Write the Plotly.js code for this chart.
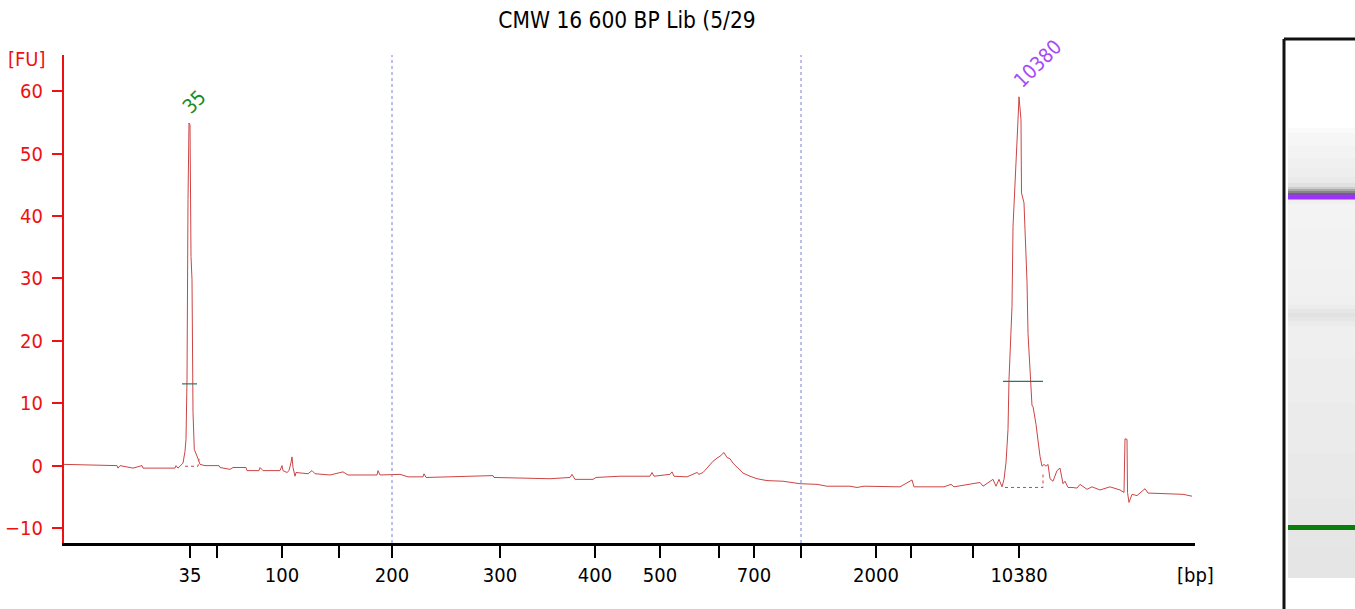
<!DOCTYPE html>
<html>
<head>
<meta charset="utf-8">
<script src="https://cdn.plot.ly/plotly-3.0.1.min.js"></script>
<style>
  html, body { margin: 0; padding: 0; background: #fff; }
  #chart { width: 1355px; height: 609px; }
</style>
</head>
<body>
<div id="chart"></div>
<script>
// ── Electropherogram (migration position along the run, fluorescence in FU) ──
const tracePos = [
  0, 53, 54, 56, 69, 78, 79, 111, 112, 114, 119, 121, 122, 123, 124, 125, 126, 126.5,
  127, 128, 129, 130.3, 132.7, 134, 136, 141, 155, 156, 166, 169, 182, 183, 195, 196,
  199, 216, 218, 219, 223, 225, 227, 228, 229, 231, 232, 244, 248, 251, 266, 279, 284,
  313, 314, 316, 336, 344, 359, 360, 362, 386, 429, 430, 486, 506, 508, 511, 529, 532,
  556, 586, 588, 590, 606, 608, 610, 623, 633, 635, 639, 643, 649, 653, 656, 660, 663,
  666, 669, 674, 679, 686, 693, 703, 719, 736, 753, 763, 786, 793, 800, 836, 848, 850,
  880, 887, 890, 916, 919, 929, 932, 935, 938, 940, 942, 943, 944, 945, 948, 949, 951,
  951.5, 953, 954, 955, 957, 957.5, 960, 961, 963, 964, 967, 968, 969, 971, 972, 976,
  978, 980, 982, 984, 986, 989, 993, 996, 999, 1001, 1004, 1008, 1013, 1016, 1023, 1028,
  1036, 1046, 1056, 1060, 1061, 1063, 1063.5, 1065, 1068, 1073, 1081, 1084, 1103, 1119, 1128
];
const traceFU = [
  0.2, 0.0, -0.4, 0.0, -0.4, 0.0, -0.4, -0.4, 0.0, -0.4, 0.4, 2.3, 4.2, 13.8, 42.6, 54.9, 54.6, 42.6,
  33.5, 29.8, 8.5, 2.6, 1.4, 1.1, 0.2, 0.0, 0.0, -0.3, -0.6, -0.3, -0.3, -0.8, -0.8, -0.3,
  -0.8, -0.8, 0.0, -0.8, -1.1, -0.8, 0.5, 1.4, -0.3, -1.7, -1.1, -1.3, -0.8, -1.3, -1.5, -1.0, -1.5,
  -1.5, -0.8, -1.5, -1.4, -1.8, -1.8, -1.3, -1.9, -1.8, -1.6, -1.9, -2.1, -1.9, -1.4, -2.2, -2.2, -1.9,
  -1.7, -1.7, -1.1, -1.7, -1.4, -1.0, -1.7, -1.8, -1.1, -1.4, -1.1, -0.4, 0.7, 1.2, 1.5, 2.1, 1.3,
  1.1, 0.4, -0.4, -1.2, -1.7, -2.1, -2.4, -2.5, -2.9, -3.0, -3.3, -3.3, -3.5, -3.3, -3.4, -2.3, -3.4,
  -3.4, -3.0, -3.4, -2.7, -3.3, -2.2, -3.3, -2.2, -3.4, -2.2, 0.5, 3.1, 5.8, 13.8, 25.5, 38.3, 46.3,
  45.5, 53.7, 55.4, 59.1, 55.4, 43.7, 42.1, 37.8, 29.5, 21.2, 13.8, 9.6, 9.5, 7.4, 6.6, 1.5,
  -0.1, 0.2, -0.1, 0.2, -2.1, -2.5, -0.8, -0.4, -2.9, -2.5, -3.5, -3.5, -3.6, -3.0, -3.8, -3.4,
  -3.9, -3.4, -3.9, -4.3, 4.3, 4.2, -4.3, -5.9, -4.6, -4.8, -3.7, -4.4, -4.5, -4.6, -4.9
];

// size-axis ticks (empty text = unlabelled tick)
const tickPos  = [126, 153, 218, 275, 328, 436, 531, 596, 655, 690, 737, 812, 847, 909, 955];
const tickText = ['35', '', '100', '', '200', '300', '400', '500', '', '700', '', '2000', '', '', '10380'];

const fuTicks = [-10, 0, 10, 20, 30, 40, 50, 60];

// called peaks: label, apex position, label anchor
const peakLabels = ['35', '10380'];
const peakLabelPos = [130, 973];
const peakLabelFU  = [58.2, 64.4];
const peakColors   = ['#1f8a1f', '#a64bf4'];

// peak width (half height) markers and baselines
const widthPos = [[118, 133], [939, 979]];
const widthFU  = [[13.1, 13.1], [13.5, 13.5]];
const basePos  = [[121, 134, 135], [941, 979, 979]];
const baseFU   = [[-0.1, -0.1, 1.1], [-3.5, -3.5, -1.0]];

// dotted region borders
const regionPos = [328, 737];

// ── Gel lane (distance from lane bottom, grey level 0-255) ──
const gelPos   = [0, 20, 40, 60, 100, 150, 200, 240, 250, 255, 259, 263, 267, 271, 276, 290, 330, 370,
                  378, 384, 386, 388, 390, 393, 398, 405, 415, 425, 440, 450];
const gelShade = [229, 229, 230, 231, 233, 235, 237, 239, 239, 235, 230, 226, 230, 236, 240, 241, 242, 243,
                  240, 105, 135, 170, 205, 225, 234, 238, 240, 243, 246, 250];
const bandPos    = [381, 50.5];
const bandColors = ['#9b30ff', '#0a7d0a'];

const FONT = 'DejaVu Sans Condensed, Liberation Sans, sans-serif';
const RED  = '#ee1111';

const traces = [];

// main trace
traces.push({
  x: tracePos, y: traceFU, type: 'scatter', mode: 'lines',
  line: { color: '#cd4444', width: 1 }, hoverinfo: 'skip',
});

widthPos.forEach((xs, i) => {
  traces.push({
    x: xs, y: widthFU[i], type: 'scatter', mode: 'lines',
    line: { color: '#1f7a6a', width: 1.2 }, hoverinfo: 'skip',
  });
  traces.push({
    x: basePos[i], y: baseFU[i], type: 'scatter', mode: 'lines',
    line: { color: '#cd4444', width: 1, dash: 'dot' }, hoverinfo: 'skip',
  });
});

// gel lane
traces.push({
  type: 'heatmap', xaxis: 'x2', yaxis: 'y2',
  x: [0], y: gelPos, z: gelShade.map(v => [v]),
  zmin: 0, zmax: 255, showscale: false, hoverinfo: 'skip',
  colorscale: [[0, 'rgb(0,0,0)'], [1, 'rgb(255,255,255)']],
});
bandPos.forEach((p, i) => {
  traces.push({
    x: [-0.5, 0.5], y: [p, p], xaxis: 'x2', yaxis: 'y2',
    type: 'scatter', mode: 'lines',
    line: { color: bandColors[i], width: 5 }, hoverinfo: 'skip',
  });
});

const annotations = peakLabels.map((t, i) => ({
  text: t, x: peakLabelPos[i], y: peakLabelFU[i], xref: 'x', yref: 'y',
  showarrow: false, textangle: -45, xanchor: 'center', yanchor: 'middle',
  font: { family: FONT, size: 20, color: peakColors[i] },
}));
annotations.push({
  text: '[FU]', xref: 'paper', yref: 'paper', x: -0.0287, y: 0.9477,
  showarrow: false, xanchor: 'center', yanchor: 'middle',
  font: { family: FONT, size: 20, color: RED },
});
annotations.push({
  text: '[bp]', xref: 'x', yref: 'paper', x: 1131, y: 0.0162,
  showarrow: false, xanchor: 'center', yanchor: 'middle',
  font: { family: FONT, size: 20, color: '#000' },
});

const shapes = regionPos.map(p => ({
  type: 'line', xref: 'x', yref: 'paper', x0: p, x1: p, y0: 0.074, y1: 0.9549,
  line: { color: '#7f7fd6', width: 1, dash: 'dot' },
}));
// gel frame
shapes.push({
  type: 'line', xref: 'paper', yref: 'paper', x0: 0.945, x1: 0.945, y0: -0.06, y1: 0.9838,
  line: { color: '#111', width: 3 },
});
shapes.push({
  type: 'line', xref: 'paper', yref: 'paper', x0: 0.945, x1: 1.02, y0: 0.9838, y1: 0.9838,
  line: { color: '#111', width: 3 },
});

const layout = {
  width: 1355, height: 609,
  paper_bgcolor: '#fff', plot_bgcolor: '#fff',
  margin: { t: 30, r: 0, b: 25, l: 64, pad: 0 },
  showlegend: false,
  font: { family: FONT, size: 20, color: '#000' },
  title: {
    text: 'CMW 16 600 BP Lib (5/29',
    xref: 'paper', x: 0.4361, xanchor: 'center',
    yref: 'container', y: 0.967, yanchor: 'middle',
    font: { family: FONT, size: 22.5, color: '#000' },
  },
  xaxis: {
    domain: [0, 0.87607], range: [0, 1131], anchor: 'y',
    tickmode: 'array', tickvals: tickPos, ticktext: tickText,
    ticks: 'outside', ticklen: 12, tickwidth: 2, tickcolor: '#000',
    showline: true, linecolor: '#000', linewidth: 3,
    showgrid: false, zeroline: false, ticklabelstandoff: 0,
    tickfont: { family: FONT, size: 20, color: '#000' },
    fixedrange: true,
  },
  yaxis: {
    domain: [0.074, 0.9549], range: [-12.4, 65.8], anchor: 'x',
    tickmode: 'array', tickvals: fuTicks,
    ticks: 'outside', ticklen: 10, tickwidth: 2, tickcolor: RED,
    showline: true, linecolor: RED, linewidth: 2,
    showgrid: false, zeroline: false, ticklabelstandoff: 5,
    tickfont: { family: FONT, size: 20, color: RED },
    fixedrange: true,
  },
  xaxis2: { domain: [0.9481, 1], range: [-0.5, 0.5], anchor: 'y2', visible: false, fixedrange: true },
  yaxis2: { domain: [0.01083, 0.8231], range: [0, 450], anchor: 'x2', visible: false, fixedrange: true },
  annotations: annotations,
  shapes: shapes,
};

Plotly.newPlot('chart', traces, layout, { displayModeBar: false, staticPlot: true });
</script>
</body>
</html>
